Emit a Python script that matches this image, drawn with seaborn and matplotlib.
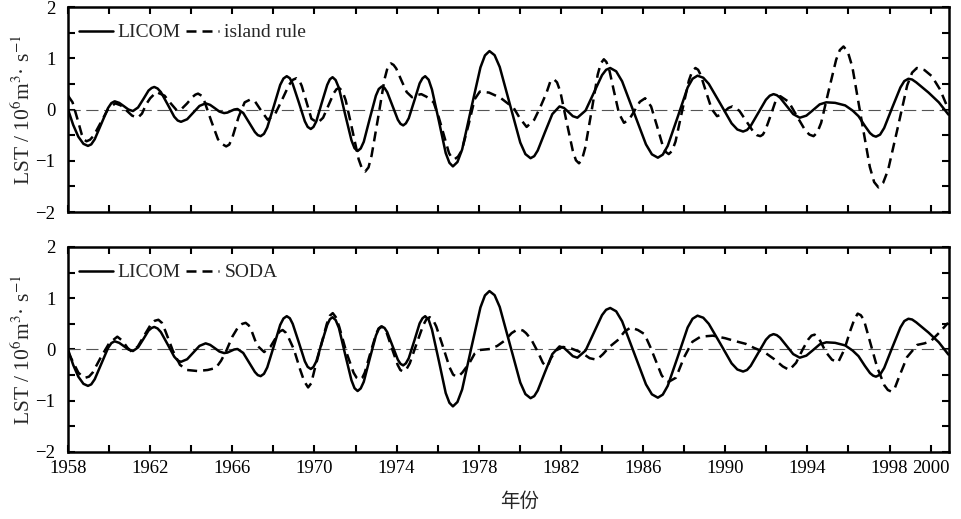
import numpy as np
import pandas as pd
import seaborn as sns
import matplotlib.pyplot as plt
from matplotlib.lines import Line2D
from matplotlib.ticker import FixedLocator, FixedFormatter

# (year, LST)
# LICOM model transport (same series in both panels)
licom_points = [
    (1958.0, 0.0), (1958.25, -0.30), (1958.5, -0.53), (1958.75, -0.67), (1958.97, -0.71),
    (1959.13, -0.68), (1959.30, -0.58), (1959.62, -0.28), (1959.95, 0.03), (1960.11, 0.125),
    (1960.27, 0.16), (1960.49, 0.13), (1960.72, 0.065), (1960.94, 0.0), (1961.16, -0.03),
    (1961.41, 0.04), (1961.67, 0.205), (1961.92, 0.37), (1962.07, 0.42), (1962.2, 0.44),
    (1962.36, 0.41), (1962.52, 0.34), (1962.85, 0.10), (1963.17, -0.14), (1963.34, -0.215),
    (1963.5, -0.24), (1963.8, -0.19), (1964.1, -0.06), (1964.4, 0.07), (1964.7, 0.12),
    (1964.92, 0.09), (1965.15, 0.025), (1965.37, -0.04), (1965.6, -0.07), (1965.76, -0.06),
    (1965.92, -0.03), (1966.09, 0.0), (1966.25, 0.01), (1966.53, -0.067), (1966.82, -0.255),
    (1967.1, -0.44), (1967.24, -0.50), (1967.38, -0.52), (1967.54, -0.475), (1967.70, -0.35),
    (1968.02, 0.065), (1968.33, 0.48), (1968.49, 0.605), (1968.65, 0.65), (1968.80, 0.61),
    (1968.94, 0.50), (1969.24, 0.135), (1969.53, -0.23), (1969.67, -0.34), (1969.82, -0.38),
    (1969.95, -0.34), (1970.09, -0.23), (1970.35, 0.125), (1970.62, 0.48), (1970.75, 0.59),
    (1970.88, 0.63), (1971.03, 0.575), (1971.19, 0.42), (1971.49, -0.09), (1971.80, -0.60),
    (1971.95, -0.755), (1972.10, -0.81), (1972.25, -0.76), (1972.40, -0.63), (1972.69, -0.18),
    (1972.99, 0.27), (1973.13, 0.40), (1973.28, 0.45), (1973.41, 0.42), (1973.54, 0.34),
    (1973.80, 0.07), (1974.06, -0.20), (1974.19, -0.28), (1974.32, -0.31), (1974.45, -0.27),
    (1974.59, -0.17), (1974.86, 0.17), (1975.12, 0.51), (1975.26, 0.61), (1975.39, 0.65),
    (1975.56, 0.58), (1975.72, 0.39), (1976.06, -0.23), (1976.39, -0.85), (1976.57, -1.04),
    (1976.74, -1.11), (1976.96, -1.025), (1977.19, -0.78), (1977.63, 0.02), (1978.08, 0.82),
    (1978.30, 1.055), (1978.52, 1.14), (1978.77, 1.06), (1979.02, 0.83), (1979.52, 0.095),
    (1980.02, -0.645), (1980.27, -0.87), (1980.52, -0.95), (1980.70, -0.91), (1980.87, -0.80),
    (1981.22, -0.445), (1981.58, -0.09), (1981.93, 0.06), (1982.15, 0.03), (1982.37, -0.05),
    (1982.58, -0.13), (1982.8, -0.16), (1983.2, -0.02), (1983.6, 0.325), (1984.0, 0.67),
    (1984.2, 0.775), (1984.4, 0.81), (1984.69, 0.745), (1984.98, 0.55), (1985.56, -0.065),
    (1986.14, -0.68), (1986.43, -0.875), (1986.72, -0.94), (1986.96, -0.88), (1987.2, -0.71),
    (1987.69, -0.14), (1988.17, 0.43), (1988.41, 0.60), (1988.65, 0.66), (1988.93, 0.62),
    (1989.2, 0.50), (1989.76, 0.115), (1990.31, -0.27), (1990.59, -0.39), (1990.87, -0.43),
    (1991.06, -0.40), (1991.24, -0.32), (1991.61, -0.065), (1991.98, 0.19), (1992.17, 0.27),
    (1992.35, 0.30), (1992.51, 0.28), (1992.67, 0.23), (1992.99, 0.07), (1993.31, -0.09),
    (1993.63, -0.16), (1993.95, -0.12), (1994.28, -0.01), (1994.6, 0.10), (1994.92, 0.14),
    (1995.35, 0.13), (1995.84, 0.08), (1996.2, -0.02), (1996.49, -0.13), (1996.8, -0.32),
    (1997.05, -0.46), (1997.2, -0.51), (1997.34, -0.53), (1997.54, -0.49), (1997.74, -0.36),
    (1998.13, 0.035), (1998.53, 0.43), (1998.72, 0.555), (1998.92, 0.60), (1999.1, 0.585),
    (1999.3, 0.53), (1999.9, 0.33), (2000.4, 0.14), (2000.87, -0.10),
]

# island rule estimate (top panel)
island_points = [
    (1958.0, 0.27), (1958.22, 0.14), (1958.45, -0.175), (1958.67, -0.49), (1958.79, -0.59),
    (1958.9, -0.62), (1959.07, -0.59), (1959.25, -0.51), (1959.6, -0.25), (1959.95, 0.01),
    (1960.3, 0.12), (1960.57, 0.08), (1960.85, -0.02), (1961.12, -0.12), (1961.4, -0.16),
    (1961.6, -0.08), (1961.8, 0.10), (1962.0, 0.22), (1962.3, 0.34), (1962.7, 0.27),
    (1963.0, 0.12), (1963.3, -0.02), (1963.55, 0.02), (1963.8, 0.12), (1964.05, 0.24),
    (1964.2, 0.29), (1964.33, 0.31), (1964.5, 0.27), (1964.65, 0.15), (1964.97, -0.22),
    (1965.3, -0.58), (1965.53, -0.68), (1965.7, -0.72), (1965.85, -0.685), (1966.0, -0.55),
    (1966.3, -0.15), (1966.6, 0.14), (1966.85, 0.19), (1967.1, 0.16), (1967.4, -0.02),
    (1967.72, -0.20), (1968.07, -0.10), (1968.41, 0.18), (1968.76, 0.48), (1968.95, 0.58),
    (1969.12, 0.61), (1969.25, 0.575), (1969.38, 0.46), (1969.63, 0.12), (1969.85, -0.18),
    (1970.16, -0.26), (1970.42, -0.16), (1970.68, 0.08), (1970.94, 0.32), (1971.07, 0.395),
    (1971.2, 0.42), (1971.36, 0.36), (1971.52, 0.18), (1971.84, -0.395), (1972.15, -0.97),
    (1972.31, -1.15), (1972.47, -1.21), (1972.63, -1.13), (1972.78, -0.90), (1973.1, -0.155),
    (1973.41, 0.59), (1973.56, 0.82), (1973.72, 0.90), (1973.85, 0.87), (1973.98, 0.80),
    (1974.23, 0.57), (1974.49, 0.34), (1974.75, 0.24), (1974.97, 0.28), (1975.2, 0.30),
    (1975.45, 0.25), (1975.8, 0.14), (1976.05, -0.15), (1976.3, -0.50), (1976.55, -0.85),
    (1976.68, -0.94), (1976.82, -0.97), (1976.99, -0.92), (1977.17, -0.80), (1977.5, -0.30),
    (1977.8, 0.20), (1978.05, 0.35), (1978.5, 0.33), (1979.05, 0.23), (1979.7, 0.03),
    (1980.0, -0.17), (1980.33, -0.34), (1980.7, -0.20), (1981.0, 0.05), (1981.3, 0.33),
    (1981.49, 0.555), (1981.66, 0.59), (1981.81, 0.53), (1981.97, 0.35), (1982.27, -0.23),
    (1982.58, -0.81), (1982.73, -0.99), (1982.88, -1.05), (1983.03, -0.97), (1983.18, -0.75),
    (1983.49, -0.035), (1983.79, 0.68), (1983.94, 0.90), (1984.09, 0.98), (1984.21, 0.93),
    (1984.34, 0.80), (1984.58, 0.36), (1984.83, -0.08), (1985.07, -0.26), (1985.33, -0.19),
    (1985.59, -0.02), (1985.84, 0.15), (1986.1, 0.22), (1986.39, 0.06), (1986.68, -0.325),
    (1986.96, -0.71), (1987.11, -0.83), (1987.25, -0.87), (1987.41, -0.81), (1987.58, -0.625),
    (1987.9, -0.03), (1988.23, 0.565), (1988.39, 0.745), (1988.55, 0.81), (1988.68, 0.775),
    (1988.81, 0.67), (1989.07, 0.34), (1989.34, 0.01), (1989.6, -0.13), (1989.79, -0.10),
    (1989.97, -0.035), (1990.16, 0.03), (1990.35, 0.06), (1990.69, -0.025), (1991.03, -0.23),
    (1991.37, -0.435), (1991.54, -0.50), (1991.71, -0.52), (1991.83, -0.49), (1991.95, -0.41),
    (1992.2, -0.13), (1992.44, 0.15), (1992.68, 0.26), (1993.09, 0.15), (1993.49, -0.13),
    (1993.9, -0.41), (1994.1, -0.49), (1994.3, -0.52), (1994.48, -0.45), (1994.67, -0.26),
    (1995.03, 0.355), (1995.4, 0.97), (1995.58, 1.16), (1995.76, 1.23), (1995.97, 1.125),
    (1996.19, 0.83), (1996.61, -0.145), (1997.04, -1.12), (1997.25, -1.415), (1997.46, -1.52),
    (1997.69, -1.43), (1997.93, -1.18), (1998.4, -0.355), (1998.86, 0.47), (1999.1, 0.72),
    (1999.33, 0.81), (1999.7, 0.77), (2000.06, 0.65), (2000.46, 0.39), (2000.87, 0.0),
]

# SODA reanalysis (bottom panel)
soda_points = [
    (1958.0, -0.05), (1958.25, -0.25), (1958.5, -0.45), (1958.68, -0.52), (1958.85, -0.55),
    (1959.02, -0.53), (1959.2, -0.45), (1959.6, -0.15), (1960.0, 0.12), (1960.4, 0.25),
    (1960.65, 0.17), (1960.9, 0.03), (1961.1, -0.04), (1961.4, 0.06), (1961.75, 0.30),
    (1962.05, 0.50), (1962.22, 0.56), (1962.4, 0.58), (1962.57, 0.52), (1962.75, 0.35),
    (1963.1, -0.02), (1963.45, -0.30), (1963.8, -0.40), (1964.3, -0.42), (1964.8, -0.40),
    (1965.2, -0.36), (1965.45, -0.22), (1965.7, -0.03), (1966.0, 0.25), (1966.3, 0.45),
    (1966.48, 0.50), (1966.65, 0.52), (1966.8, 0.47), (1966.95, 0.35), (1967.2, 0.08),
    (1967.55, -0.05), (1967.85, 0.05), (1968.15, 0.25), (1968.3, 0.35), (1968.45, 0.38),
    (1968.6, 0.33), (1968.75, 0.22), (1969.0, 0.0), (1969.3, -0.39), (1969.5, -0.62),
    (1969.69, -0.74), (1969.84, -0.66), (1970.0, -0.40), (1970.3, 0.05), (1970.6, 0.50),
    (1970.75, 0.66), (1970.89, 0.71), (1971.04, 0.63), (1971.2, 0.45), (1971.55, -0.05),
    (1971.9, -0.45), (1972.05, -0.55), (1972.2, -0.59), (1972.33, -0.55), (1972.45, -0.45),
    (1972.72, -0.07), (1973.0, 0.30), (1973.12, 0.41), (1973.25, 0.45), (1973.38, 0.41),
    (1973.52, 0.32), (1973.78, 0.01), (1974.05, -0.30), (1974.18, -0.40), (1974.31, -0.43),
    (1974.47, -0.39), (1974.64, -0.27), (1974.96, 0.10), (1975.29, 0.47), (1975.45, 0.59),
    (1975.61, 0.63), (1975.77, 0.58), (1975.93, 0.45), (1976.26, 0.05), (1976.58, -0.35),
    (1976.75, -0.49), (1976.91, -0.53), (1977.05, -0.51), (1977.2, -0.45), (1977.55, -0.26),
    (1977.8, -0.08), (1978.05, -0.01), (1978.55, 0.01), (1978.9, 0.07), (1979.25, 0.17),
    (1979.6, 0.32), (1979.8, 0.37), (1979.98, 0.39), (1980.15, 0.37), (1980.3, 0.32),
    (1980.55, 0.20), (1980.88, -0.05), (1981.12, -0.26), (1981.28, -0.33), (1981.4, -0.28),
    (1981.5, -0.18), (1981.75, -0.02), (1982.1, 0.05), (1982.5, 0.02), (1983.0, -0.06),
    (1983.4, -0.17), (1983.75, -0.20), (1984.05, -0.09), (1984.36, 0.05), (1984.76, 0.18),
    (1985.1, 0.35), (1985.4, 0.43), (1985.75, 0.38), (1986.07, 0.30), (1986.35, 0.05),
    (1986.6, -0.20), (1986.9, -0.50), (1987.08, -0.60), (1987.25, -0.63), (1987.6, -0.55),
    (1988.0, -0.15), (1988.4, 0.15), (1988.8, 0.25), (1989.4, 0.27), (1990.0, 0.22),
    (1990.52, 0.16), (1991.0, 0.11), (1991.41, 0.03), (1991.9, -0.05), (1992.39, -0.19),
    (1992.8, -0.33), (1993.12, -0.40), (1993.45, -0.26), (1993.77, 0.0), (1994.05, 0.20),
    (1994.2, 0.27), (1994.35, 0.29), (1994.5, 0.25), (1994.65, 0.15), (1994.9, -0.05),
    (1995.2, -0.20), (1995.5, -0.25), (1995.8, 0.0), (1996.1, 0.38), (1996.28, 0.58),
    (1996.45, 0.70), (1996.6, 0.67), (1996.75, 0.58), (1997.05, 0.15), (1997.4, -0.35),
    (1997.75, -0.70), (1997.92, -0.79), (1998.08, -0.82), (1998.25, -0.76), (1998.45, -0.55),
    (1998.85, -0.15), (1999.35, 0.09), (1999.7, 0.12), (2000.0, 0.16), (2000.4, 0.32),
    (2000.85, 0.52),
]

tick_years = list(range(1958, 2001, 2))
label_years = [1958, 1962, 1966, 1970, 1974, 1978, 1982, 1986, 1990, 1994, 1998, 2000]
ytick_values = [-2, -1.5, -1, -0.5, 0, 0.5, 1, 1.5, 2]
ytick_labels = ['\u22122', '', '\u22121', '', '0', '', '1', '', '2']

sns.set_style("ticks")
plt.rcParams['font.family'] = ['Liberation Serif', 'Noto Sans CJK SC']
plt.rcParams['mathtext.fontset'] = 'stix'

fig = plt.figure(figsize=(9.61, 5.19), dpi=100)
ax_top = fig.add_axes([0.0708, 0.5915, 0.9168, 0.395])
ax_bot = fig.add_axes([0.0708, 0.1291, 0.9168, 0.395])

licom = pd.DataFrame(licom_points, columns=['year', 'LST'])
island = pd.DataFrame(island_points, columns=['year', 'LST'])
soda = pd.DataFrame(soda_points, columns=['year', 'LST'])

dash = (4.0, 2.4)
lw = 1.8

for ax, other, name in [(ax_top, island, 'island rule'), (ax_bot, soda, 'SODA')]:
    ax.axhline(0, color='#555555', lw=0.8, linestyle=(0, (11, 5)), zorder=1)
    sns.lineplot(data=licom, x='year', y='LST', ax=ax, color='black', lw=lw,
                 solid_joinstyle='round', zorder=3)
    sns.lineplot(data=other, x='year', y='LST', ax=ax, color='black', lw=lw,
                 dash_joinstyle='round', zorder=2)
    ax.lines[-1].set_dashes(dash)

    ax.set_xlim(1958, 2000.9)
    ax.set_ylim(-2, 2)
    ax.xaxis.set_major_locator(FixedLocator(tick_years))
    ax.xaxis.set_major_formatter(FixedFormatter(
        [str(y) if y in label_years else '' for y in tick_years]))
    ax.yaxis.set_major_locator(FixedLocator(ytick_values))
    ax.yaxis.set_major_formatter(FixedFormatter(ytick_labels))
    ax.tick_params(direction='in', length=5, width=1.5, top=True, right=True,
                   labelsize=13.5, colors='black')
    ax.tick_params(axis='y', pad=9)
    ax.tick_params(axis='x', pad=6)
    for sp in ax.spines.values():
        sp.set_linewidth(1.8)
        sp.set_color('black')

    ax.set_ylabel('LST / 10$^{6}$m$^{3}$\u00b7 s$^{-1}$', fontsize=15.5)
    ax.yaxis.set_label_coords(-0.037, 0.5)
    ax.set_xlabel('')

    handles = [Line2D([], [], color='black', lw=lw),
               Line2D([], [], color='black', lw=lw, dashes=dash)]
    ax.legend(handles, ['LICOM', name], ncol=2, loc='center left',
              bbox_to_anchor=(0.013, 0.875), frameon=False, fontsize=14,
              handlelength=1.7, handletextpad=0.25, columnspacing=0.3,
              borderaxespad=0, borderpad=0)

ax_top.tick_params(axis='x', labelbottom=False)
ax_bot.set_xlabel('年份', fontsize=14, family=['Noto Sans CJK SC'])
ax_bot.xaxis.set_label_coords((520 - 68) / 881, -0.19)

fig.savefig('out.png', dpi=100)
